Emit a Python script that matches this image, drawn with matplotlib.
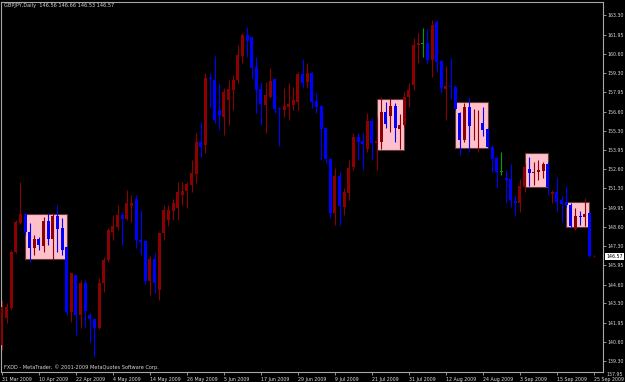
import matplotlib
matplotlib.use('Agg')
import matplotlib.pyplot as plt
from matplotlib.patches import Rectangle

# GBPJPY daily candles, 31 Mar 2009 .. 25 Sep 2009
opens = [140.41, 142.28, 142.98, 146.86, 148.88, 149.50, 148.25, 147.14, 147.76, 147.28,
         149.02, 147.76, 149.36, 148.53, 147.21, 142.70, 145.27, 142.49, 144.71, 142.49,
         142.21, 141.59, 144.71, 146.31, 148.25, 148.60, 149.43, 149.15, 150.05, 150.54,
         147.70, 147.63, 144.85, 146.38, 144.23, 148.18, 149.09, 149.71, 149.92, 150.82,
         151.10, 151.51, 152.28, 154.50, 154.29, 158.95, 158.81, 156.72, 156.24, 157.42,
         158.11, 158.81, 160.47, 161.93, 161.79, 159.71, 158.18, 157.07, 157.63, 158.88,
         156.86, 156.72, 156.93, 157.07, 157.28, 159.22, 158.67, 159.29, 157.35, 157.00,
         155.47, 153.32, 149.57, 152.14, 149.99, 150.96, 152.76, 154.85, 154.57, 154.01,
         155.96, 154.43, 154.50, 156.58, 156.30, 157.00, 155.40, 155.68, 157.63, 158.46,
         161.24, 161.31, 161.38, 160.20, 162.84, 160.13, 158.18, 158.39, 158.32, 156.51,
         154.64, 156.93, 155.58, 155.58, 155.82, 155.40, 154.15, 153.39, 152.42, 152.00,
         151.93, 150.40, 150.26, 151.37, 152.63, 152.35, 152.42, 152.49, 152.97, 150.89,
         151.03, 150.47, 150.33, 150.12, 148.46, 149.36, 149.29, 149.57, 146.56]
highs = [143.53, 143.32, 147.00, 149.09, 151.72, 149.57, 148.88, 148.04, 147.90, 149.29,
         149.57, 149.57, 150.12, 149.22, 147.28, 145.40, 145.27, 144.92, 144.92, 142.63,
         142.28, 145.06, 146.51, 148.53, 149.43, 150.12, 149.64, 151.17, 150.82, 150.82,
         149.78, 147.70, 146.58, 146.79, 148.25, 150.12, 150.12, 150.54, 151.72, 151.72,
         151.72, 153.25, 155.13, 155.89, 159.29, 159.29, 160.47, 158.60, 158.25, 158.81,
         159.15, 161.24, 162.07, 162.49, 161.79, 160.40, 158.67, 158.67, 159.64, 158.95,
         156.93, 158.25, 158.60, 158.32, 159.36, 160.26, 159.99, 159.36, 157.90, 157.07,
         155.54, 153.39, 152.69, 152.42, 151.31, 153.25, 155.13, 155.13, 155.13, 156.51,
         156.17, 156.24, 157.63, 157.28, 157.56, 157.21, 156.44, 157.97, 158.60, 161.72,
         162.07, 162.42, 162.35, 162.97, 162.97, 160.20, 159.78, 160.33, 158.46, 156.58,
         157.21, 157.63, 156.79, 156.72, 156.93, 155.47, 154.29, 153.46, 153.81, 152.56,
         152.97, 150.82, 151.93, 153.04, 153.46, 153.11, 153.25, 153.11, 153.11, 151.17,
         152.07, 150.82, 151.45, 150.26, 149.92, 149.71, 150.61, 149.64, 146.66]
lows = [140.06, 141.93, 142.84, 146.79, 148.81, 148.04, 146.17, 146.65, 147.00, 146.86,
        147.35, 146.31, 146.86, 146.65, 142.49, 142.00, 141.10, 141.59, 141.65, 140.61,
        139.57, 141.52, 144.09, 146.17, 147.70, 148.39, 147.35, 149.09, 148.95, 147.14,
        146.65, 144.64, 143.88, 144.02, 143.53, 147.70, 148.67, 149.09, 149.09, 150.12,
        149.92, 151.03, 151.65, 153.46, 153.74, 156.93, 155.82, 155.33, 154.99, 155.68,
        156.72, 158.60, 159.99, 160.40, 158.95, 156.51, 155.68, 155.13, 157.56, 156.51,
        154.22, 156.24, 156.03, 156.72, 156.72, 158.25, 158.25, 156.86, 156.51, 153.25,
        153.04, 149.22, 148.74, 148.74, 149.43, 150.47, 152.56, 153.25, 152.56, 153.81,
        153.25, 152.56, 154.01, 155.47, 155.19, 154.50, 154.01, 155.54, 156.93, 158.11,
        159.99, 160.40, 159.99, 159.01, 159.36, 157.90, 156.03, 157.49, 156.72, 153.60,
        154.50, 153.81, 154.64, 153.81, 154.92, 154.08, 152.42, 151.31, 152.21, 150.26,
        149.99, 149.43, 149.64, 151.03, 151.44, 151.51, 151.86, 152.00, 150.82, 150.26,
        149.71, 148.95, 149.99, 148.53, 148.39, 148.74, 148.67, 146.51, 146.53]
closes = [143.05, 143.05, 146.86, 148.95, 149.50, 148.25, 147.14, 147.76, 147.35, 149.02,
          147.76, 149.36, 148.46, 147.00, 142.70, 145.40, 142.49, 144.71, 142.77, 142.21,
          141.59, 144.71, 146.31, 148.39, 148.67, 149.43, 149.15, 150.26, 150.26, 147.70,
          147.56, 144.85, 146.38, 144.71, 148.18, 149.78, 149.78, 150.26, 151.03, 151.10,
          151.58, 152.35, 154.50, 154.15, 158.95, 158.88, 156.03, 156.30, 157.97, 158.18,
          158.81, 160.54, 161.93, 161.51, 159.64, 158.11, 157.14, 157.76, 158.74, 156.79,
          156.79, 157.00, 157.14, 157.42, 159.22, 158.60, 159.29, 157.28, 156.93, 155.40,
          153.32, 149.57, 152.14, 150.05, 151.03, 152.70, 154.85, 154.50, 154.36, 155.96,
          154.43, 154.57, 156.58, 155.75, 157.00, 155.47, 155.68, 157.63, 158.11, 161.24,
          161.38, 161.31, 160.20, 162.63, 160.06, 158.25, 158.39, 158.32, 156.79, 154.64,
          156.93, 155.61, 155.61, 155.61, 155.33, 154.15, 153.32, 152.42, 152.42, 151.86,
          150.47, 150.26, 151.44, 152.76, 152.35, 152.42, 152.56, 152.97, 151.37, 151.03,
          150.33, 150.19, 150.12, 148.67, 149.36, 149.29, 149.50, 146.60, 146.57]

date_labels = ['31 Mar 2009', '10 Apr 2009', '22 Apr 2009', '4 May 2009', '14 May 2009',
               '26 May 2009', '5 Jun 2009', '17 Jun 2009', '29 Jun 2009', '9 Jul 2009',
               '21 Jul 2009', '31 Jul 2009', '12 Aug 2009', '24 Aug 2009', '3 Sep 2009',
               '15 Sep 2009', '25 Sep 2009']
date_step = 8  # one label every 8 bars

price_labels = ['163.30', '161.95', '160.60', '159.30', '157.95', '156.60', '155.30',
                '153.95', '152.60', '151.30', '149.95', '148.60', '147.30', '145.95',
                '144.60', '143.30', '141.95', '140.60', '139.30']

# highlighted rectangles: first bar, last bar, low, high
box_start = [5, 81, 98, 113, 122]
box_end = [14, 87, 105, 118, 127]
box_low = [146.38, 153.95, 154.08, 151.38, 148.60]
box_high = [149.50, 157.49, 157.28, 153.74, 150.33]

BULL = '#8b0000'
BEAR = '#0000ff'
DOJI = '#00a000'
TXT = '#d8d8d8'
FRAME = '#a8a8a8'
FS = 3.4

fig = plt.figure(figsize=(6.25, 3.82), dpi=100, facecolor='black')
ax = fig.add_axes([1 / 625, 10 / 382, 602 / 625, 370.5 / 382])
ax.set_facecolor('black')

for s, e, lo, hi in zip(box_start, box_end, box_low, box_high):
    ax.add_patch(Rectangle((s, lo), e - s, hi - lo, facecolor='#ffc0cb',
                           edgecolor='#6b3a3a', lw=0.8, zorder=1))

for i in range(len(opens)):
    o, h, l, c = opens[i], highs[i], lows[i], closes[i]
    if c > o:
        col = BULL
    elif c < o:
        col = BEAR
    else:
        col = DOJI
    ax.vlines(i, l, h, color=col, lw=0.8, zorder=2)
    ax.bar(i, max(abs(c - o), 0.06), bottom=min(o, c), width=0.65,
           color=col, lw=0, zorder=3)

ax.set_xlim(-0.2, 129.96)
ax.set_ylim(138.53, 164.26)

for sp in ax.spines.values():
    sp.set_color(FRAME)
    sp.set_linewidth(0.8)

ax.set_xticks(range(0, len(date_labels) * date_step, date_step))
ax.set_xticklabels(date_labels, ha='left')
ax.tick_params(axis='x', length=2.5, width=0.6, color=FRAME, labelsize=FS,
               labelcolor=TXT, pad=1)

ax.yaxis.tick_right()
ax.set_yticks([float(v) for v in price_labels])
ax.set_yticklabels(price_labels)
ax.tick_params(axis='y', length=2.5, width=0.6, color=FRAME, labelsize=FS,
               labelcolor=TXT, pad=0.8)

fig.text(606.5 / 625, 1 - 374 / 382, '137.95', fontsize=FS, color=TXT, va='center')

last_price = closes[-1]
ax.text(1.0055, last_price, '%.2f' % last_price, transform=ax.get_yaxis_transform(),
        fontsize=FS, color='black', ha='left', va='center', clip_on=False,
        bbox=dict(boxstyle='square,pad=0.2', fc='white', ec='none'))

fig.text(4 / 625, 1 - 6 / 382,
         'GBPJPY,Daily  %.2f %.2f %.2f %.2f' % (opens[-1], highs[-1], lows[-1], closes[-1]),
         fontsize=3.6, color=TXT, va='center')
fig.text(4 / 625, 1 - 367 / 382,
         'FXDD - MetaTrader, \u00a9 2001-2009 MetaQuotes Software Corp.',
         fontsize=3.6, color=TXT, va='center')

fig.savefig('out.png', dpi=100, facecolor='black')
